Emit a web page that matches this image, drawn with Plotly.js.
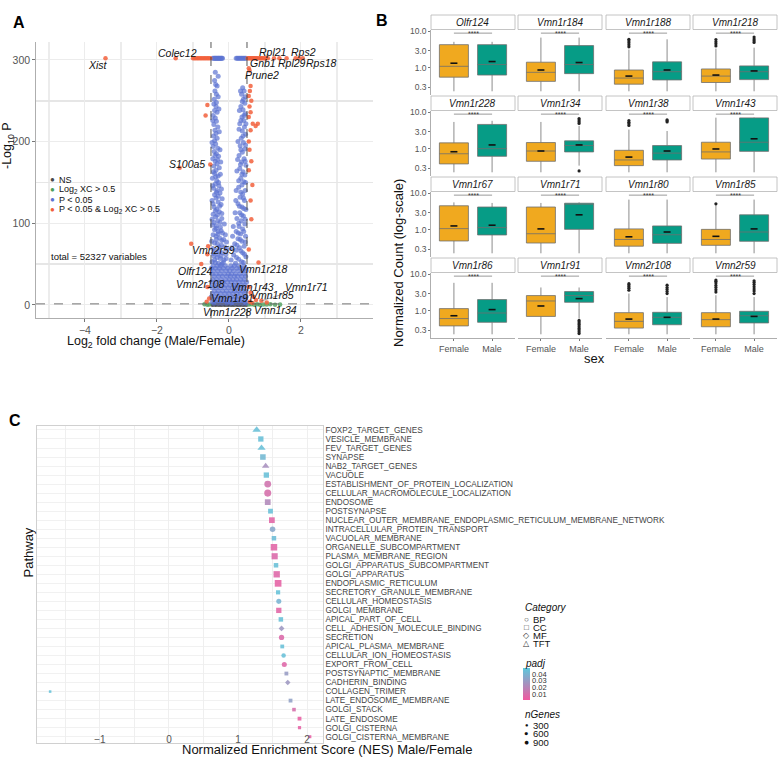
<!DOCTYPE html>
<html><head><meta charset="utf-8">
<script src="https://cdn.plot.ly/plotly-3.0.1.min.js"></script>
<style>body{margin:0;background:#fff}#chart{width:780px;height:767px}</style>
</head><body><div id="chart"></div>
<script>
// ---------------- DATA: Panel A (volcano) ----------------
const nsPts = [[-0.46,0.3],[-0.37,0.3],[-0.28,0.3],[-0.2,0.3],[-0.11,0.3],[-0.03,0.3],[0.06,0.3],[0.14,0.3],[0.23,0.3],[0.31,0.3],[0.4,0.3],[0.48,0.3],
 [-0.42,0.8],[-0.33,0.8],[-0.24,0.8],[-0.15,0.8],[-0.07,0.8],[0.02,0.8],[0.1,0.8],[0.19,0.8],[0.27,0.8],[0.36,0.8],[0.44,0.8],
 [-0.38,1.1],[-0.25,1.1],[-0.12,1.1],[0.0,1.1],[0.12,1.1],[0.25,1.1],[0.37,1.1]];
const fcPts = [[0.55,0.5],[0.62,0.9],[0.7,0.3],[0.78,0.7],[0.86,0.2],[0.95,0.6],[1.05,0.4],[1.15,0.8],[1.28,0.3],[1.42,0.5],[-0.55,0.6],[-0.6,0.3],[-0.68,0.9]];
const pPts = [
 // capped row
 [-0.45,302],[-0.42,302],[-0.4,302],[-0.38,302],[-0.36,302],[-0.34,302],[-0.32,302],[-0.3,302],[-0.28,302],[-0.26,302],[-0.24,302],[-0.22,302],[-0.2,302],[-0.18,302],
 [0.2,302],[0.23,302],[0.26,302],[0.29,302],[0.32,302],[0.35,302],[0.38,302],[0.41,302],[0.44,302],[0.47,302],
 // left arm
 [-0.38,285],[-0.4,275],[-0.37,270],[-0.33,268],[-0.39,262],[-0.35,258],[-0.41,252],[-0.3,255],
 [-0.42,246],[-0.36,243],[-0.4,238],[-0.33,236],[-0.44,232],[-0.38,229],[-0.35,225],[-0.42,221],[-0.31,218],[-0.39,214],[-0.36,210],[-0.43,207],[-0.33,204],[-0.4,201],
 [-0.37,197],[-0.44,194],[-0.31,192],[-0.41,188],[-0.35,185],[-0.29,182],[-0.45,179],[-0.38,176],[-0.33,173],[-0.42,170],[-0.27,168],[-0.36,165],[-0.4,161],[-0.3,158],[-0.46,155],[-0.34,152],
 [-0.38,148],[-0.28,146],[-0.43,143],[-0.33,140],[-0.25,137],[-0.4,135],[-0.36,131],[-0.47,128],[-0.3,126],[-0.22,123],[-0.41,120],[-0.34,117],[-0.27,114],[-0.44,111],[-0.37,108],[-0.2,106],[-0.31,103],[-0.42,101],
 [-0.46,98],[-0.35,97],[-0.24,95],[-0.4,92],[-0.3,90],[-0.18,88],[-0.44,86],[-0.36,84],[-0.26,82],[-0.15,80],[-0.48,78],[-0.4,76],[-0.32,75],[-0.21,73],[-0.12,71],[-0.45,69],[-0.37,67],[-0.28,66],[-0.18,64],[-0.09,62],[-0.42,60],[-0.33,58],[-0.24,57],[-0.14,55],[-0.47,53],[-0.38,52],[-0.29,51],[-0.2,50],
 [-0.3,280],[-0.35,248],[-0.28,240],[-0.45,226],[-0.27,212],[-0.47,199],[-0.25,190],[-0.39,183],[-0.32,178],[-0.23,175],[-0.43,163],[-0.24,160],[-0.37,157],[-0.29,150],[-0.45,146],[-0.21,142],[-0.35,138],[-0.3,133],[-0.19,130],[-0.44,124],[-0.26,121],[-0.38,115],[-0.2,112],[-0.32,110],[-0.47,105],[-0.25,101],[-0.13,99],[-0.36,94],[-0.22,91],[-0.1,86],[-0.31,87],[-0.2,79],[-0.07,77],[-0.35,80],[-0.27,71],[-0.05,68],[-0.44,63],[-0.31,62],[-0.22,60],[-0.08,57],[-0.4,55],[-0.16,52],
 // right arm
 [0.38,266],[0.42,262],[0.35,258],[0.4,252],[0.44,247],[0.33,243],[0.39,239],[0.45,234],[0.36,230],[0.41,226],[0.3,222],[0.43,218],[0.37,213],[0.46,209],[0.34,204],
 [0.4,199],[0.31,195],[0.44,191],[0.37,187],[0.28,183],[0.42,179],[0.35,175],[0.47,171],[0.3,167],[0.39,163],[0.44,159],[0.33,155],[0.41,151],
 [0.36,147],[0.27,144],[0.45,140],[0.38,136],[0.31,132],[0.43,128],[0.25,124],[0.36,120],[0.47,117],[0.3,113],[0.4,109],[0.22,106],[0.34,103],
 [0.44,99],[0.28,96],[0.38,93],[0.2,90],[0.32,87],[0.46,84],[0.25,81],[0.36,78],[0.16,75],[0.42,72],[0.29,70],[0.2,67],[0.38,64],[0.13,61],[0.47,59],[0.27,56],[0.35,53],[0.18,51],
 [0.32,262],[0.45,255],[0.37,249],[0.29,238],[0.42,232],[0.33,226],[0.47,222],[0.28,215],[0.39,207],[0.25,200],[0.46,196],[0.33,190],[0.24,178],[0.45,176],[0.32,172],[0.22,164],[0.36,160],[0.27,152],[0.46,150],[0.2,140],[0.33,138],[0.4,131],[0.19,128],[0.29,121],[0.41,118],[0.17,113],[0.35,110],[0.45,105],[0.27,100],[0.12,96],[0.41,90],[0.26,88],[0.1,84],[0.31,80],[0.45,77],[0.22,73],[0.08,70],[0.33,66],[0.43,62],[0.21,58],[0.06,55],[0.4,52],
 // dense base
 [-0.44,48],[-0.33,48],[-0.23,48],[-0.1,48],[0.05,48],[0.15,48],[0.27,48],[0.41,48],
 [-0.49,45],[-0.38,45],[-0.27,45],[-0.16,45],[-0.04,45],[0.09,45],[0.22,45],[0.33,45],[0.45,45],
 [-0.43,42],[-0.31,42],[-0.2,42],[-0.08,42],[0.02,42],[0.13,42],[0.26,42],[0.38,42],[0.48,42],
 [-0.47,38],[-0.36,38],[-0.25,38],[-0.13,38],[-0.02,38],[0.07,38],[0.18,38],[0.3,38],[0.43,38],
 [-0.41,35],[-0.29,35],[-0.18,35],[-0.06,35],[0.04,35],[0.15,35],[0.24,35],[0.35,35],[0.46,35],
 [-0.45,31],[-0.34,31],[-0.22,31],[-0.1,31],[0.01,31],[0.11,31],[0.21,31],[0.32,31],[0.42,31],
 [-0.48,28],[-0.38,28],[-0.27,28],[-0.15,28],[-0.04,28],[0.06,28],[0.17,28],[0.28,28],[0.39,28],[0.49,28],
 [-0.43,24],[-0.32,24],[-0.2,24],[-0.09,24],[0.03,24],[0.13,24],[0.23,24],[0.34,24],[0.45,24],
 [-0.47,21],[-0.36,21],[-0.25,21],[-0.13,21],[-0.02,21],[0.09,21],[0.19,21],[0.3,21],[0.41,21],
 [-0.41,17],[-0.3,17],[-0.18,17],[-0.07,17],[0.05,17],[0.15,17],[0.26,17],[0.37,17],[0.47,17],
 [-0.46,14],[-0.34,14],[-0.23,14],[-0.11,14],[0.0,14],[0.11,14],[0.22,14],[0.33,14],[0.44,14],
 [-0.49,10],[-0.39,10],[-0.28,10],[-0.16,10],[-0.05,10],[0.07,10],[0.18,10],[0.29,10],[0.4,10],[0.48,10],
 [-0.44,7],[-0.33,7],[-0.21,7],[-0.09,7],[0.03,7],[0.14,7],[0.25,7],[0.36,7],[0.46,7],
 [-0.47,4],[-0.36,4],[-0.25,4],[-0.14,4],[-0.02,4],[0.08,3],[0.2,4],[0.31,4],[0.42,4],
 [-0.42,2],[-0.3,2],[-0.19,2],[-0.07,2],[0.05,2],[0.16,2],[0.27,2],[0.38,2],[0.48,2]];
const bothPts = [
 [-3.43,302],[-1.48,302],[-1.0,302],[-0.96,302],[-0.92,302],[-0.88,302],[-0.84,302],[-0.8,302],[-0.76,302],[-0.72,302],[-0.68,302],[-0.64,302],[-0.6,302],[-0.56,302],[-0.52,302],
 [0.52,302],[0.55,302],[0.58,302],[0.61,302],[0.64,302],[0.67,302],[0.7,302],[0.73,302],[0.76,302],[0.8,302],[0.84,302],[0.88,302],[0.9,302],[0.94,302],[0.98,302],[1.03,302],[1.08,302],[1.25,302],[1.4,302],[1.6,302],[1.85,302],[1.95,302],[2.05,302],
 [-0.6,245],[-0.65,232],[-0.52,172],[-1.37,168],[-1.05,75],[-0.58,72],[-0.6,62],[-0.77,50],[-0.6,22],[-0.55,8],[-0.62,4],
 [0.55,290],[0.57,287],[0.6,268],[0.58,262],[0.55,256],[0.62,250],[0.57,243],[0.6,236],[0.55,230],[0.66,222],[0.8,222],[0.74,219],[0.6,214],[0.55,200],[0.57,190],[0.62,176],[0.55,165],[0.65,147],[0.6,128],[0.62,105],[0.55,68],[0.82,52],[0.55,22],[0.6,15],[0.68,10],[0.75,6],[0.9,5],[1.05,3],[0.58,4],[0.65,2.5]];
const volGenes = ["Xist","Colec12","Rpl21","Rps2","Gnb1","Rpl29","Rps18","Prune2","S100a5","Vmn2r59","Olfr124","Vmn1r218","Vmn2r108","Vmn1r43","Vmn1r71","Vmn1r91","Vmn1r85","Vmn1r228","Vmn1r34"];
const volGeneX = [-3.43,-1.48,1.25,1.95,0.9,1.4,2.05,0.55,-1.37,-0.6,-0.77,0.82,-0.6,0.6,0.9,0.08,0.75,0.02,0.65];
const volGeneY = [302,302,302,302,302,302,302,290,168,62,50,52,22,15,5,3,6,1,1.2];
// label placement (text centre, data units)
const volLabX = [-3.64,-1.42,1.22,2.08,0.94,1.75,2.58,0.92,-1.17,-0.44,-0.94,0.97,-0.78,0.64,2.14,0.11,1.22,-0.03,1.28];
const volLabY = [294,308,310,310,296,296,296,281,173,67,42,44,26,22,22,9,12,-9,-6];

// ---------------- DATA: Panel B (boxplots) ----------------
const genes = ["Olfr124","Vmn1r184","Vmn1r188","Vmn1r218","Vmn1r228","Vmn1r34","Vmn1r38","Vmn1r43","Vmn1r67","Vmn1r71","Vmn1r80","Vmn1r85","Vmn1r86","Vmn1r91","Vmn2r108","Vmn2r59"];
const sexes = ["Female","Male"];
const fQ1  = [0.56,0.43,0.36,0.40,0.39,0.46,0.35,0.53,0.50,0.44,0.36,0.38,0.39,0.71,0.34,0.37];
const fMed = [1.11,0.76,0.53,0.60,0.74,0.88,0.50,0.83,1.09,0.79,0.55,0.55,0.62,1.88,0.52,0.58];
const fQ3  = [4.35,1.44,0.88,0.94,1.47,1.50,0.92,1.53,4.60,4.25,1.07,1.04,1.16,2.64,0.90,0.90];
const fLo  = [0.23,0.23,0.23,0.23,0.23,0.23,0.23,0.23,0.23,0.23,0.23,0.23,0.23,0.23,0.23,0.23];
const fHi  = [5.2,6.8,3.2,3.4,5.5,5.5,3.4,7.2,5.7,5.5,6.8,4.8,5.9,4.4,3.0,2.7];
const fMean= [1.35,0.88,0.60,0.64,0.84,0.88,0.60,1.00,1.29,1.07,0.65,0.67,0.74,1.37,0.60,0.60];
const fOut = [[],[],[3.8,4.3,4.9,5.5,6.1],[4.0,4.6,5.2,6.0],[],[],[4.4,4.9,5.4,6.0],[],[],[],[],[5.2],[],[],[3.7,4.2,4.7,5.2,5.6],[3.3,3.8,4.4,5.0,5.8,6.5,7.0]];
const mQ1  = [0.64,0.70,0.47,0.48,0.63,0.83,0.50,0.86,0.73,1.04,0.43,0.49,0.49,1.73,0.42,0.47];
const mMed = [1.24,1.24,0.79,0.79,1.02,1.24,0.77,1.53,1.16,5.30,0.74,0.88,0.88,2.64,0.67,0.74];
const mQ3  = [4.35,4.10,1.47,1.14,4.70,1.67,1.24,7.10,4.25,5.40,1.29,2.60,2.05,3.40,0.92,0.98];
const mLo  = [0.23,0.23,0.23,0.23,0.23,0.35,0.23,0.23,0.23,0.23,0.23,0.23,0.23,0.62,0.23,0.23];
const mHi  = [5.2,6.8,6.1,3.6,5.9,4.3,3.1,7.3,5.5,5.7,6.8,6.8,5.9,4.4,2.4,2.4];
const mMean= [1.50,1.41,0.88,0.83,1.29,1.29,0.88,1.90,1.35,2.60,0.88,1.07,1.09,2.18,0.67,0.71];
const mOut = [[],[],[],[5.0,5.6,6.2,7.0],[],[0.25,5.0,5.6,6.2,6.8],[5.5,5.9,6.3],[],[],[],[],[],[],[0.55,0.5,0.45,0.41,0.37,0.33,0.3,0.27,0.24],[3.0,3.4,3.9,4.4,5.1],[3.0,3.5,4.0,4.6,5.3,6.0,6.7]];
const sigLevel = 9;
const boxTicks = [0.3,1,3,10];
const boxTickText = ["0.3","1.0","3.0","10.0"];

// ---------------- DATA: Panel C (GSEA dot plot) ----------------
const pathways = ["FOXP2_TARGET_GENES","VESICLE_MEMBRANE","FEV_TARGET_GENES","SYNAPSE","NAB2_TARGET_GENES","VACUOLE","ESTABLISHMENT_OF_PROTEIN_LOCALIZATION","CELLULAR_MACROMOLECULE_LOCALIZATION","ENDOSOME","POSTSYNAPSE","NUCLEAR_OUTER_MEMBRANE_ENDOPLASMIC_RETICULUM_MEMBRANE_NETWORK","INTRACELLULAR_PROTEIN_TRANSPORT","VACUOLAR_MEMBRANE","ORGANELLE_SUBCOMPARTMENT","PLASMA_MEMBRANE_REGION","GOLGI_APPARATUS_SUBCOMPARTMENT","GOLGI_APPARATUS","ENDOPLASMIC_RETICULUM","SECRETORY_GRANULE_MEMBRANE","CELLULAR_HOMEOSTASIS","GOLGI_MEMBRANE","APICAL_PART_OF_CELL","CELL_ADHESION_MOLECULE_BINDING","SECRETION","APICAL_PLASMA_MEMBRANE","CELLULAR_ION_HOMEOSTASIS","EXPORT_FROM_CELL","POSTSYNAPTIC_MEMBRANE","CADHERIN_BINDING","COLLAGEN_TRIMER","LATE_ENDOSOME_MEMBRANE","GOLGI_STACK","LATE_ENDOSOME","GOLGI_CISTERNA","GOLGI_CISTERNA_MEMBRANE"];
const nes = [1.27,1.33,1.34,1.36,1.40,1.41,1.43,1.43,1.43,1.47,1.49,1.50,1.52,1.52,1.53,1.55,1.56,1.58,1.58,1.59,1.59,1.62,1.63,1.63,1.64,1.66,1.67,1.70,1.72,-1.72,1.76,1.81,1.89,1.89,2.04];
const padj = [0.045,0.045,0.045,0.042,0.025,0.045,0.012,0.010,0.022,0.045,0.006,0.035,0.044,0.006,0.008,0.045,0.007,0.005,0.046,0.040,0.006,0.045,0.028,0.008,0.045,0.045,0.007,0.030,0.028,0.046,0.032,0.010,0.004,0.005,0.004];
const nGenes = [1000,400,900,450,700,400,800,850,500,300,500,450,250,700,600,250,650,750,200,350,400,250,250,400,150,250,350,150,200,30,150,120,150,80,60];
const category = ["TFT","CC","TFT","CC","TFT","CC","BP","BP","CC","CC","CC","BP","CC","CC","CC","CC","CC","CC","CC","BP","CC","CC","MF","BP","CC","BP","BP","CC","MF","CC","CC","CC","CC","CC","CC"];
const catLevels = ["BP","CC","MF","TFT"];
const sizeLevels = [300,600,900];
const padjTicks = [0.01,0.02,0.03,0.04];

// ---------------- BUILD ----------------
const W=780,H=767;
const FAM="Liberation Sans, Arial, Helvetica, sans-serif";
const px=v=>v/W, py=v=>1-v/H;
const traces=[], annotations=[], shapes=[];
const layout={width:W,height:H,margin:{l:0,r:0,t:0,b:0},paper_bgcolor:'#fff',plot_bgcolor:'#fff',showlegend:false,font:{family:FAM,color:'#222'},boxmode:'overlay'};
const xy=a=>({x:a.map(p=>p[0]),y:a.map(p=>p[1])});
const sizeOf=n=>1.5+0.19*Math.sqrt(n);

// ---- Panel A
const volCols={ns:'#4a4a4a',fc:'#4e9f5a',p:'#5d73d2',both:'#f2603c'};
[[nsPts,volCols.ns,0.9,4.5],[fcPts,volCols.fc,0.8,4.5],[pPts,volCols.p,0.7,5],[bothPts,volCols.both,0.85,4.5]].forEach(([pts,c,o,s])=>{
  traces.push(Object.assign({type:'scatter',mode:'markers',xaxis:'x',yaxis:'y',hoverinfo:'skip',
    marker:{color:c,size:s,opacity:o,line:{width:0}}},xy(pts)));
});
layout.xaxis={domain:[px(36),px(373)],range:[-5.36,4.0],tickvals:[-4,-2,0,2],showgrid:true,gridcolor:'#ececec',gridwidth:1,
  minor:{tickvals:[-5,-3,-1,1,3],showgrid:true,gridcolor:'#ececec',gridwidth:1.3},zeroline:false,showline:true,linecolor:'#9a9a9a',linewidth:0.8,
  ticks:'outside',ticklen:3,tickcolor:'#777',tickfont:{size:10.5,color:'#555'},anchor:'y'};
layout.yaxis={domain:[py(318),py(42)],range:[-16,322],tickvals:[0,100,200,300],showgrid:true,gridcolor:'#ececec',gridwidth:1,
  minor:{tickvals:[50,150,250],showgrid:true,gridcolor:'#e6e6e6',gridwidth:1.8},zeroline:false,showline:true,linecolor:'#9a9a9a',linewidth:0.8,
  ticks:'outside',ticklen:3,tickcolor:'#777',tickfont:{size:10.5,color:'#555'},anchor:'x'};
shapes.push({type:'line',xref:'x',yref:'y domain',x0:-0.5,x1:-0.5,y0:0,y1:1,line:{color:'#444',width:0.9,dash:'dash'}});
shapes.push({type:'line',xref:'x',yref:'y domain',x0:0.5,x1:0.5,y0:0,y1:1,line:{color:'#444',width:0.9,dash:'dash'}});
shapes.push({type:'line',xref:'x domain',yref:'y',x0:0,x1:1,y0:1.3,y1:1.3,line:{color:'#666',width:0.9,dash:'dash'}});
volGenes.forEach((g,i)=>{
  annotations.push({xref:'x',yref:'y',axref:'x',ayref:'y',x:volGeneX[i],y:volGeneY[i],ax:volLabX[i],ay:volLabY[i],
    text:'<i>'+g+'</i>',showarrow:true,arrowhead:0,arrowwidth:0.5,arrowcolor:'#555',standoff:0,font:{size:10.5,color:'#111'}});
});
const legA=[['NS',volCols.ns,180],['Log<sub>2</sub> XC &gt; 0.5',volCols.fc,189.5],['P &lt; 0.05',volCols.p,200],['P &lt; 0.05 &amp; Log<sub>2</sub> XC &gt; 0.5',volCols.both,209.5]];
legA.forEach(([t,c,yy])=>{
  annotations.push({xref:'paper',yref:'paper',x:px(53),y:py(yy),text:'●',showarrow:false,font:{size:8,color:c},xanchor:'center',yanchor:'middle'});
  annotations.push({xref:'paper',yref:'paper',x:px(57),y:py(yy),text:t,showarrow:false,font:{size:9,color:'#111'},xanchor:'left',yanchor:'middle'});
});
annotations.push({xref:'paper',yref:'paper',x:px(49),y:py(257),text:'total = 52327 variables',showarrow:false,font:{size:9.5,color:'#111'},xanchor:'left',yanchor:'middle'});
annotations.push({xref:'paper',yref:'paper',x:px(8),y:py(146),text:'-Log<sub>10</sub> P',textangle:-90,showarrow:false,font:{size:12.5,color:'#111'},xanchor:'center',yanchor:'middle'});
annotations.push({xref:'paper',yref:'paper',x:px(156),y:py(342),text:'Log<sub>2</sub> fold change (Male/Female)',showarrow:false,font:{size:12.5,color:'#111'},xanchor:'center',yanchor:'middle'});

// ---- Panel B
const colL=[431,518,606,693], colW=84;
const femC='#F0A91F', malC='#069C86';
genes.forEach((g,i)=>{
  const r=Math.floor(i/4), c=i%4, n=i+2;
  const xa='x'+n, ya='y'+n;
  const stripTop=15+81*r, pTop=stripTop+15, pBot=pTop+65;
  layout['xaxis'+n]={domain:[px(colL[c]),px(colL[c]+colW)],type:'category',categoryarray:sexes,range:[-0.6,1.6],
    showticklabels:r===3,ticks:r===3?'outside':'',ticklen:2,tickcolor:'#777',showline:r===3,linecolor:'#9a9a9a',linewidth:0.8,
    showgrid:false,zeroline:false,tickfont:{size:9,color:'#555'},anchor:'y'+n};
  layout['yaxis'+n]={domain:[py(pBot),py(pTop)],type:'log',range:[-0.74,1.04],tickvals:boxTicks,ticktext:boxTickText,
    showticklabels:c===0,ticks:c===0?'outside':'',ticklen:2,tickcolor:'#777',showline:c===0,linecolor:'#9a9a9a',linewidth:0.8,
    showgrid:false,zeroline:false,tickfont:{size:8.5,color:'#555'},anchor:'x'+n};
  const bx=(sx,q1,md,q3,lo,hi,col)=>({type:'box',x:[sx],q1:[q1],median:[md],q3:[q3],lowerfence:[lo],upperfence:[hi],
    fillcolor:col,line:{color:'#6f6f6f',width:0.8},width:0.76,whiskerwidth:0,boxpoints:false,xaxis:xa,yaxis:ya,hoverinfo:'skip'});
  traces.push(bx('Female',fQ1[i],fMed[i],fQ3[i],fLo[i],fHi[i],femC));
  traces.push(bx('Male',mQ1[i],mMed[i],mQ3[i],mLo[i],mHi[i],malC));
  const ox=fOut[i].map(()=> 'Female').concat(mOut[i].map(()=> 'Male'));
  const oy=fOut[i].concat(mOut[i]);
  if(oy.length) traces.push({type:'scatter',mode:'markers',x:ox,y:oy,xaxis:xa,yaxis:ya,hoverinfo:'skip',marker:{color:'#222',size:3.2}});
  traces.push({type:'scatter',mode:'markers',x:sexes,y:[fMean[i],mMean[i]],xaxis:xa,yaxis:ya,hoverinfo:'skip',
    marker:{symbol:'line-ew',size:5,line:{width:1.6,color:'#111'},color:'#111'}});
  traces.push({type:'scatter',mode:'lines',x:sexes,y:[sigLevel,sigLevel],xaxis:xa,yaxis:ya,hoverinfo:'skip',line:{color:'#555',width:0.6}});
  annotations.push({xref:xa,yref:ya,x:0.5,y:Math.log10(sigLevel),text:'****',showarrow:false,font:{size:7,color:'#333'},yanchor:'middle',yshift:0});
  shapes.push({type:'rect',xref:'paper',yref:'paper',x0:px(colL[c]),x1:px(colL[c]+colW),y0:py(stripTop+14.5),y1:py(stripTop),
    fillcolor:'#fff',line:{color:'#b5b5b5',width:0.8}});
  annotations.push({xref:'paper',yref:'paper',x:px(colL[c]+colW/2),y:py(stripTop+7.5),text:'<i>'+g+'</i>',showarrow:false,
    font:{size:10,color:'#1a1a1a'},xanchor:'center',yanchor:'middle'});
});
annotations.push({xref:'paper',yref:'paper',x:px(398),y:py(177),text:'Normalized Count (log-scale)',textangle:-90,showarrow:false,font:{size:13,color:'#111'}});
annotations.push({xref:'paper',yref:'paper',x:px(607),y:py(358),text:'sex',showarrow:false,font:{size:13,color:'#111'}});

// ---- Panel C
const symMap={BP:'circle',CC:'square',MF:'diamond',TFT:'triangle-up'};
const pink='#F1589F', cyan='#5CC8DC';
traces.push({type:'scatter',mode:'markers',x:nes,y:pathways,xaxis:'x18',yaxis:'y18',hoverinfo:'skip',
  marker:{symbol:category.map(c=>symMap[c]),size:nGenes.map(sizeOf),color:padj,cmin:0.001,cmax:0.049,
    colorscale:[[0,pink],[1,cyan]],opacity:0.88,line:{width:0},showscale:true,
    colorbar:{x:px(523),xanchor:'left',y:py(684),yanchor:'middle',len:32,lenmode:'pixels',thickness:7,outlinewidth:0,
      tickvals:padjTicks,ticks:'',tickfont:{size:7.5,color:'#333'},xpad:0,ypad:0,title:{text:''}}}});
layout.xaxis18={domain:[px(37),px(323)],range:[-1.91,2.23],tickvals:[-1,0,1,2],showgrid:true,gridcolor:'#ebebeb',gridwidth:0.8,
  minor:{tickvals:[-1.5,-0.5,0.5,1.5],showgrid:true,gridcolor:'#ebebeb',gridwidth:0.8},zeroline:false,showline:true,mirror:true,
  linecolor:'#c4c4c4',linewidth:0.8,ticks:'',ticklabelposition:'outside',ticklabelstandoff:-13,tickfont:{size:10,color:'#555'},anchor:'y18'};
layout.yaxis18={domain:[py(743),py(426)],type:'category',categoryarray:pathways,tickmode:'linear',tick0:0,dtick:1,
  range:[34.7,-0.44],side:'right',ticklabeloverflow:'allow',
  showgrid:true,gridcolor:'#ededed',gridwidth:0.8,zeroline:false,showline:true,mirror:true,linecolor:'#c4c4c4',linewidth:0.8,
  ticks:'',tickfont:{size:8.2,color:'#444'},anchor:'x18'};
annotations.push({xref:'paper',yref:'paper',x:px(18),y:py(580),text:'Pathway',textangle:-90,showarrow:false,font:{size:13,color:'#111'}});
annotations.push({xref:'paper',yref:'paper',x:px(180),y:py(759),text:'Normalized Enrichment Score (NES) Male/Female',showarrow:false,font:{size:13,color:'#111'}});
// legends C
annotations.push({xref:'paper',yref:'paper',x:px(523),y:py(607),text:'<i>Category</i>',showarrow:false,xanchor:'left',yanchor:'middle',font:{size:10,color:'#111'}});
const catGlyph={BP:'○',CC:'□',MF:'◇',TFT:'△'};
catLevels.forEach((c,k)=>{
  const yy=619+8*k;
  annotations.push({xref:'paper',yref:'paper',x:px(526),y:py(yy),text:catGlyph[c],showarrow:false,xanchor:'center',yanchor:'middle',font:{size:8,color:'#333'}});
  annotations.push({xref:'paper',yref:'paper',x:px(530.5),y:py(yy),text:c,showarrow:false,xanchor:'left',yanchor:'middle',font:{size:9.5,color:'#111'}});
});
annotations.push({xref:'paper',yref:'paper',x:px(523),y:py(663),text:'<i>padj</i>',showarrow:false,xanchor:'left',yanchor:'middle',font:{size:10,color:'#111'}});
annotations.push({xref:'paper',yref:'paper',x:px(523),y:py(714),text:'<i>nGenes</i>',showarrow:false,xanchor:'left',yanchor:'middle',font:{size:10,color:'#111'}});
sizeLevels.forEach((s,k)=>{
  const yy=725+8.5*k;
  annotations.push({xref:'paper',yref:'paper',x:px(526),y:py(yy),text:'●',showarrow:false,xanchor:'center',yanchor:'middle',font:{size:sizeOf(s)*1.2,color:'#111'}});
  annotations.push({xref:'paper',yref:'paper',x:px(530.5),y:py(yy),text:String(s),showarrow:false,xanchor:'left',yanchor:'middle',font:{size:9.5,color:'#111'}});
});

// panel letters
[['A',11,12],['B',382,10],['C',7,420]].forEach(([t,x,y])=>annotations.push({xref:'paper',yref:'paper',x:px(x),y:py(y),text:'<b>'+t+'</b>',showarrow:false,font:{size:16,color:'#000'}}));

layout.annotations=annotations; layout.shapes=shapes;
Plotly.newPlot('chart',traces,layout,{staticPlot:true,displayModeBar:false});
</script></body></html>
